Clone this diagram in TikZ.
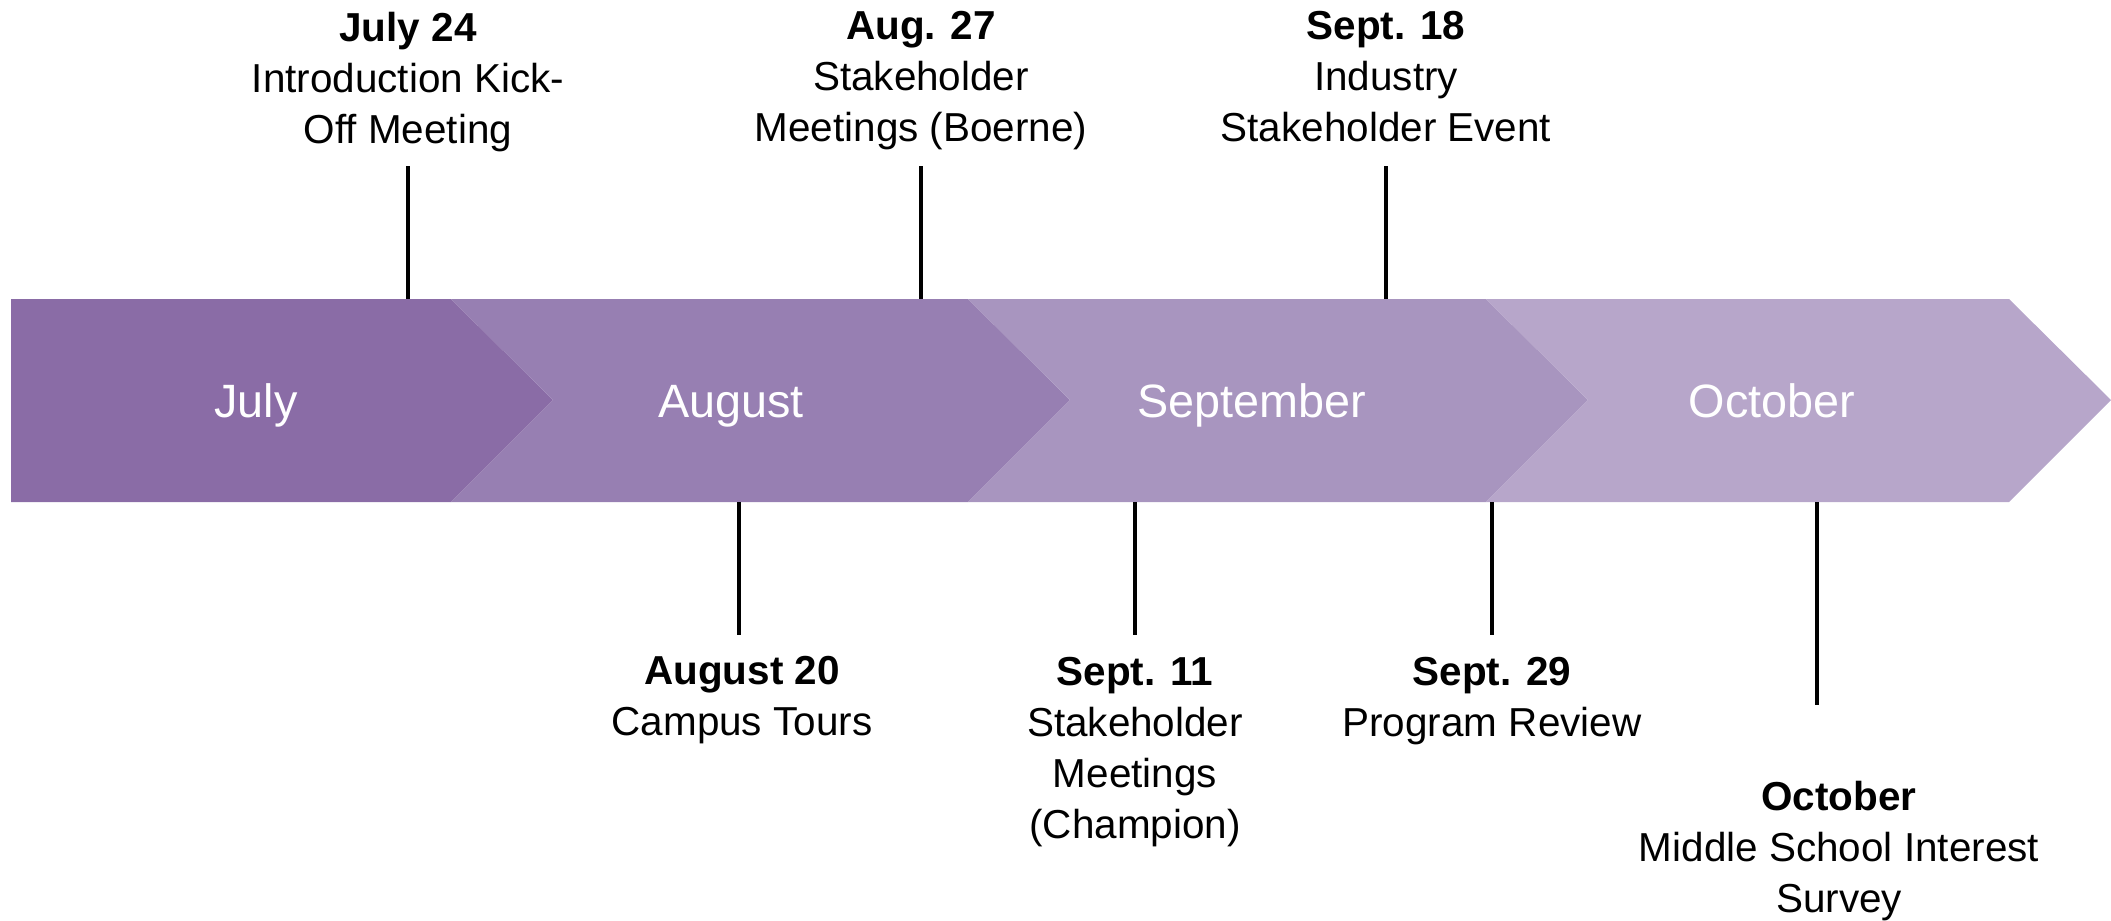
\documentclass[tikz,border=0pt]{standalone}
\usepackage{fontspec}
\setmainfont{Liberation Sans}
\definecolor{julyPurple}{RGB}{138,108,166}
\definecolor{augPurple}{RGB}{151,127,178}
\definecolor{sepPurple}{RGB}{168,149,191}
\definecolor{octPurple}{RGB}{183,166,202}

\begin{document}
\begin{tikzpicture}[x=0.01cm, y=-0.01cm, font=\fontsize{11.5}{14.5}\selectfont,
MonthLabel/.style={white, anchor=base, font=\fontsize{13.3}{16}\selectfont},
EventLabel/.style={align=center, inner sep=0pt},
TickLine/.style={line width=0.9pt}]
\useasboundingbox (0,0) rectangle (2111,920);
\def\bandTop{299}
\def\bandMid{400}
\def\bandBot{502}
% chevrons
\fill[julyPurple] (11,\bandTop) -- (451,\bandTop) -- (553,\bandMid) -- (451,\bandBot) -- (11,\bandBot) -- cycle;
\foreach \from/\to/\col in {451/968/augPurple, 968/1486/sepPurple, 1486/2009/octPurple} {
  \fill[\col] (\from,\bandTop) -- (\to,\bandTop) -- ({\to+102},\bandMid) -- (\to,\bandBot) -- (\from,\bandBot) -- ({\from+102},\bandMid) -- cycle;
}
\foreach \name/\pos in {July/256, August/731, September/1252, October/1772} {
  \node[MonthLabel] (\name) at (\pos,417) {\name};
}
% events above the band
\foreach \id/\pos/\date/\what in {
  {kickoff/408/July 24/Introduction Kick-\\Off Meeting},
  {boerne/921/Aug. 27/Stakeholder\\Meetings (Boerne)},
  {industry/1386/Sept. 18/Industry\\Stakeholder Event}%
} {
  \node[EventLabel, anchor=north] (\id) at (\pos,11) {\textbf{\date}\\\what};
  \coordinate (\id-end) at (\pos,166);
  \coordinate (\id-band) at (\pos,\bandTop);
  \draw[TickLine] (\id-end) -- (\id-band);
}
% events below the band
\foreach \id/\linex/\lineend/\pos/\top/\date/\what in {
  {tours/739/635/742/656/August 20/Campus Tours},
  {champion/1135/635/1135/657/Sept. 11/Stakeholder\\Meetings\\(Champion)},
  {review/1492/635/1492/657/Sept. 29/Program Review},
  {survey/1817/705/1839/780/October/Middle School Interest\\Survey}%
} {
  \node[EventLabel, anchor=north] (\id) at (\pos,\top) {\textbf{\date}\\\what};
  \coordinate (\id-band) at (\linex,\bandBot);
  \coordinate (\id-end) at (\linex,\lineend);
  \draw[TickLine] (\id-band) -- (\id-end);
}
\end{tikzpicture}
\end{document}
